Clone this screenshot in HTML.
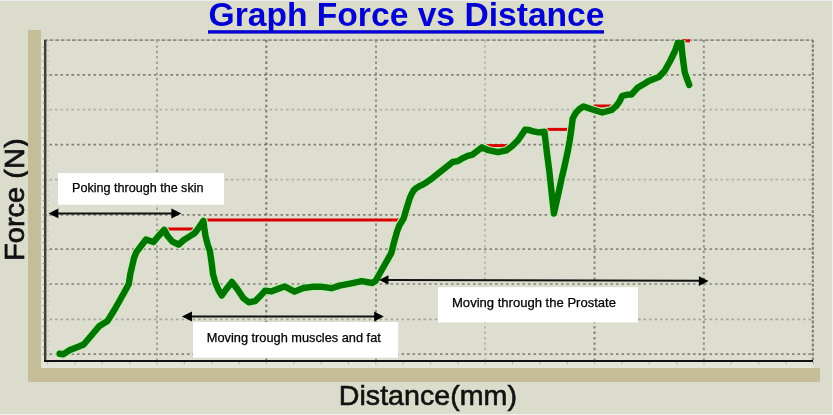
<!DOCTYPE html>
<html><head><meta charset="utf-8">
<style>
html,body{margin:0;padding:0;background:#dcdccd;}
body{width:833px;height:415px;overflow:hidden;position:relative;}
svg{position:absolute;left:0;top:0;display:block;}
.ann{font-family:"Liberation Sans",Arial,sans-serif;font-size:12.4px;fill:#000;stroke:#000;stroke-width:0.25px;}
</style></head><body>
<svg width="833" height="415" viewBox="0 0 833 415">
<defs>
<clipPath id="pc"><rect x="44" y="40" width="770" height="322"/></clipPath>
<polyline id="curve" fill="none" stroke-linejoin="round" stroke-linecap="round" points="
59.6,353.8 63.5,354.2 69.3,350.3 78.9,346.5 83.7,344.5 94.3,332 99.1,326.2 107.5,321 114.8,309.3 124.6,291.8 128.8,283.9
130.4,273.6 133.9,258.5 136.2,252.4 141.8,245 146,239.5 148.9,240.5 153.5,242 158.5,236 164.3,229.8 167.2,235.5 172,241.3 178.6,244.6 183.8,240 189.6,236.4 194.2,233.5
196.5,231 203.4,220.8 204.3,228 205.5,236 207.5,244 209.9,251 211.5,262 213,274 215.5,283 218.5,290 221.8,295.5 226,289.5 231.9,282 237.6,289.5 243.4,298.2 248.8,302.3 255,301.2 260.8,295.5 265.1,290.6 271,291.4
284.5,286.4 294.6,291.6 303.3,288 312,286.8 320.6,286.6 331.5,288.2 339.5,285.6 350.1,283.6 361.7,281.2 372.3,283 375.5,281 383.4,267 391.3,253.1 394.2,241.6 397.1,231.4
399.3,225.5 403.7,218.3 405.8,211 408,203.9 410,197.5 411.7,193.8 413.6,190.5 415.3,188.7 419,186.4 423.2,184.4 427,182 432.2,178.3 440.7,171.5 452.7,162 457.5,161.2 463.4,157.8 467.7,155.8 472.7,154.6 482,147.3 488,150.2 498,152.2 506.4,150.4 512.2,146 518,140.2 525.2,129.6 528.4,129.9 534.5,131.7 538.8,132.4 544.4,131.6 545.4,140 547.2,155 549.2,170 553.9,213.5 558.5,193 561.5,179 564.8,165 568,150 569.8,140 571.5,128 572.7,118.5 575.7,112.9 579.5,109 583.5,106.5 592.5,109.5 602.2,112.5 611.8,110 616.2,106 619.4,101.7 622.2,96 627.5,94.6 631.4,94.5 637.5,87.8 644.7,83.6 648.7,81 658.8,77 664.6,71 670.4,60.5 675,51 678.3,41.5 681.2,41.5 682.6,56.7 684.8,72.6 689.2,84.9"/>
</defs>
<!-- background -->
<rect x="0" y="0" width="833" height="415" fill="#dcdccd"/>
<rect x="0" y="0" width="833" height="1" fill="#e8eaf0"/>
<rect x="0" y="414" width="833" height="1" fill="#f0f0ec"/>
<rect x="832" y="0" width="1" height="415" fill="#f0f0ec"/>
<text transform="translate(24.3,261) rotate(-90)" font-family="Liberation Sans,Arial,sans-serif" font-size="28" fill="#111" stroke="#111" stroke-width="0.7" textLength="122.6" lengthAdjust="spacingAndGlyphs">Force (N)</text>
<!-- tan frame -->
<rect x="28" y="30" width="13" height="352" fill="#c4bd97"/>
<rect x="28" y="368" width="792" height="14" fill="#c4bd97"/>
<!-- light inner strip -->
<rect x="41" y="40" width="3" height="328" fill="#e4e5d8"/>
<rect x="41" y="362" width="773" height="6" fill="#e4e5d8"/>
<rect x="44" y="40" width="769" height="322" fill="#dddecf"/>
<!-- grid -->
<g fill="none">
<g stroke-width="1.8" stroke-dasharray="2.6 2.9">
<line x1="44" y1="40.2" x2="813" y2="40.2" stroke="#8e8e86" stroke-dasharray="3.8 1.8"/>
<line x1="44" y1="74.8" x2="813" y2="74.8" stroke="#828279"/>
<line x1="44" y1="109.7" x2="813" y2="109.7" stroke="#b2b2a8"/>
<line x1="44" y1="144.6" x2="813" y2="144.6" stroke="#828279"/>
<line x1="44" y1="179.6" x2="813" y2="179.6" stroke="#b2b2a8"/>
<line x1="44" y1="214.8" x2="813" y2="214.8" stroke="#828279"/>
<line x1="44" y1="249.2" x2="813" y2="249.2" stroke="#88887f"/>
<line x1="44" y1="284" x2="813" y2="284" stroke="#9a9a90"/>
<line x1="44" y1="319.3" x2="813" y2="319.3" stroke="#a8a89e"/>
<line x1="44" y1="354.1" x2="813" y2="354.1" stroke="#85857c"/>
</g>
<g stroke-width="2" stroke-dasharray="2.4 3">
<line x1="157" y1="40" x2="157" y2="361" stroke="#a2a298"/>
<line x1="266.3" y1="40" x2="266.3" y2="361" stroke="#78786f"/>
<line x1="376" y1="40" x2="376" y2="361" stroke="#909086"/>
<line x1="485" y1="40" x2="485" y2="361" stroke="#b8b8ae"/>
<line x1="594.5" y1="40" x2="594.5" y2="361" stroke="#828279"/>
<line x1="703.8" y1="40" x2="703.8" y2="361" stroke="#909086"/>
</g>
<line x1="812.8" y1="40" x2="812.8" y2="361" stroke="#78786f" stroke-width="2" stroke-dasharray="2.8 1.8"/>
<line x1="48.2" y1="40" x2="48.2" y2="361" stroke="#c2c2b6" stroke-width="1.4" stroke-dasharray="1.5 3.5"/>
</g>
<!-- axes -->
<line x1="45.2" y1="40" x2="45.2" y2="362" stroke="#3c3e34" stroke-width="2.4"/>
<line x1="44" y1="361" x2="813" y2="361" stroke="#111" stroke-width="2"/>
<g stroke="#bcbcb0" stroke-width="1.2"><line x1="47.6" y1="362" x2="47.6" y2="364.6"/><line x1="75.0" y1="362" x2="75.0" y2="364.6"/><line x1="102.3" y1="362" x2="102.3" y2="364.6"/><line x1="129.7" y1="362" x2="129.7" y2="364.6"/><line x1="157.0" y1="362" x2="157.0" y2="364.6"/><line x1="184.3" y1="362" x2="184.3" y2="364.6"/><line x1="211.7" y1="362" x2="211.7" y2="364.6"/><line x1="239.1" y1="362" x2="239.1" y2="364.6"/><line x1="266.4" y1="362" x2="266.4" y2="364.6"/><line x1="293.8" y1="362" x2="293.8" y2="364.6"/><line x1="321.1" y1="362" x2="321.1" y2="364.6"/><line x1="348.5" y1="362" x2="348.5" y2="364.6"/><line x1="375.8" y1="362" x2="375.8" y2="364.6"/><line x1="403.2" y1="362" x2="403.2" y2="364.6"/><line x1="430.5" y1="362" x2="430.5" y2="364.6"/><line x1="457.9" y1="362" x2="457.9" y2="364.6"/><line x1="485.2" y1="362" x2="485.2" y2="364.6"/><line x1="512.6" y1="362" x2="512.6" y2="364.6"/><line x1="539.9" y1="362" x2="539.9" y2="364.6"/><line x1="567.2" y1="362" x2="567.2" y2="364.6"/><line x1="594.6" y1="362" x2="594.6" y2="364.6"/><line x1="622.0" y1="362" x2="622.0" y2="364.6"/><line x1="649.3" y1="362" x2="649.3" y2="364.6"/><line x1="676.7" y1="362" x2="676.7" y2="364.6"/><line x1="704.0" y1="362" x2="704.0" y2="364.6"/><line x1="731.4" y1="362" x2="731.4" y2="364.6"/><line x1="758.7" y1="362" x2="758.7" y2="364.6"/><line x1="786.1" y1="362" x2="786.1" y2="364.6"/><line x1="813.4" y1="362" x2="813.4" y2="364.6"/></g>
<g stroke="#8e8e85" stroke-width="1.1"><line x1="42.6" y1="47.2" x2="44.5" y2="47.2"/><line x1="42.6" y1="54.2" x2="44.5" y2="54.2"/><line x1="42.6" y1="61.1" x2="44.5" y2="61.1"/><line x1="42.6" y1="68.1" x2="44.5" y2="68.1"/><line x1="42.6" y1="75.1" x2="44.5" y2="75.1"/><line x1="42.6" y1="82.1" x2="44.5" y2="82.1"/><line x1="42.6" y1="89.1" x2="44.5" y2="89.1"/><line x1="42.6" y1="96.0" x2="44.5" y2="96.0"/><line x1="42.6" y1="103.0" x2="44.5" y2="103.0"/><line x1="42.6" y1="110.0" x2="44.5" y2="110.0"/><line x1="42.6" y1="117.0" x2="44.5" y2="117.0"/><line x1="42.6" y1="124.0" x2="44.5" y2="124.0"/><line x1="42.6" y1="130.9" x2="44.5" y2="130.9"/><line x1="42.6" y1="137.9" x2="44.5" y2="137.9"/><line x1="42.6" y1="144.9" x2="44.5" y2="144.9"/><line x1="42.6" y1="151.9" x2="44.5" y2="151.9"/><line x1="42.6" y1="158.9" x2="44.5" y2="158.9"/><line x1="42.6" y1="165.8" x2="44.5" y2="165.8"/><line x1="42.6" y1="172.8" x2="44.5" y2="172.8"/><line x1="42.6" y1="179.8" x2="44.5" y2="179.8"/><line x1="42.6" y1="186.8" x2="44.5" y2="186.8"/><line x1="42.6" y1="193.8" x2="44.5" y2="193.8"/><line x1="42.6" y1="200.7" x2="44.5" y2="200.7"/><line x1="42.6" y1="207.7" x2="44.5" y2="207.7"/><line x1="42.6" y1="214.7" x2="44.5" y2="214.7"/><line x1="42.6" y1="221.7" x2="44.5" y2="221.7"/><line x1="42.6" y1="228.7" x2="44.5" y2="228.7"/><line x1="42.6" y1="235.6" x2="44.5" y2="235.6"/><line x1="42.6" y1="242.6" x2="44.5" y2="242.6"/><line x1="42.6" y1="249.6" x2="44.5" y2="249.6"/><line x1="42.6" y1="256.6" x2="44.5" y2="256.6"/><line x1="42.6" y1="263.6" x2="44.5" y2="263.6"/><line x1="42.6" y1="270.5" x2="44.5" y2="270.5"/><line x1="42.6" y1="277.5" x2="44.5" y2="277.5"/><line x1="42.6" y1="284.5" x2="44.5" y2="284.5"/><line x1="42.6" y1="291.5" x2="44.5" y2="291.5"/><line x1="42.6" y1="298.5" x2="44.5" y2="298.5"/><line x1="42.6" y1="305.4" x2="44.5" y2="305.4"/><line x1="42.6" y1="312.4" x2="44.5" y2="312.4"/><line x1="42.6" y1="319.4" x2="44.5" y2="319.4"/><line x1="42.6" y1="326.4" x2="44.5" y2="326.4"/><line x1="42.6" y1="333.4" x2="44.5" y2="333.4"/><line x1="42.6" y1="340.3" x2="44.5" y2="340.3"/><line x1="42.6" y1="347.3" x2="44.5" y2="347.3"/><line x1="42.6" y1="354.3" x2="44.5" y2="354.3"/></g>
<!-- red lines -->
<g stroke="#d80000" stroke-width="3" fill="none">
<line x1="166" y1="229" x2="193" y2="229"/>
<line x1="205" y1="220" x2="402" y2="220"/>
<line x1="487" y1="145.6" x2="509" y2="145.6"/>
<line x1="546" y1="129.4" x2="569" y2="129.4"/>
<line x1="593.5" y1="106" x2="615" y2="106"/>
<line x1="682" y1="40.8" x2="690" y2="40.8"/>
</g>
<!-- green curve -->
<g clip-path="url(#pc)">
<use href="#curve" stroke="#c2eeb4" stroke-width="8.6"/>
<use href="#curve" stroke="#007600" stroke-width="6.4"/>
</g>
<!-- annotation boxes -->
<rect x="58" y="173" width="166" height="31.7" fill="#fff"/>
<rect x="193" y="322" width="205.2" height="35.7" fill="#fff"/>
<rect x="438" y="287.2" width="200" height="35.2" fill="#fff"/>
<text class="ann" x="72" y="191.7" textLength="131.5" lengthAdjust="spacingAndGlyphs">Poking through the skin</text>
<text class="ann" x="206.8" y="341.8" textLength="174" lengthAdjust="spacingAndGlyphs">Moving trough muscles and fat</text>
<text class="ann" x="452" y="306.7" textLength="164" lengthAdjust="spacingAndGlyphs">Moving through the Prostate</text>
<!-- arrows -->
<g stroke="#111" stroke-width="2">
<line x1="57" y1="213.6" x2="173" y2="213.6"/>
<line x1="191" y1="316.5" x2="375" y2="316.5"/>
<line x1="388" y1="280" x2="700" y2="280.8"/>
</g>
<g fill="#000">
<polygon points="48.5,213.5 58.4,208.6 58.4,218.3"/>
<polygon points="181.3,213.6 171.4,208.5 171.4,218.5"/>
<polygon points="181.9,316.5 192,311.6 192,321.6"/>
<polygon points="383.8,316.5 374.1,311.6 374.1,321.5"/>
<polygon points="379,279.9 388.5,275.3 388.5,284.6"/>
<polygon points="708.6,281 698.9,276.2 698.9,286"/>
</g>
<!-- title -->
<text x="208.5" y="26" font-family="Liberation Sans,Arial,sans-serif" font-weight="bold" font-size="33" fill="#0202d2" textLength="396" lengthAdjust="spacingAndGlyphs">Graph Force vs Distance</text>
<rect x="208" y="30.2" width="396" height="3.4" fill="#0202d2"/>
<!-- axis labels -->
<text x="338.8" y="404.5" font-family="Liberation Sans,Arial,sans-serif" font-size="28" fill="#111" stroke="#111" stroke-width="0.6" textLength="178.2" lengthAdjust="spacingAndGlyphs">Distance(mm)</text>
</svg>
</body></html>
